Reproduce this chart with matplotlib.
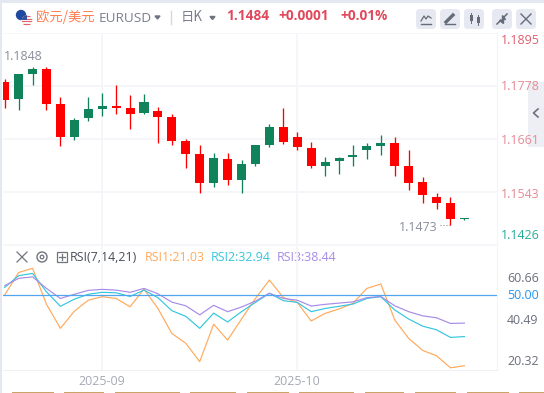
import matplotlib
matplotlib.use("Agg")
import matplotlib.pyplot as plt
from matplotlib.patches import FancyBboxPatch, Rectangle, Circle

plt.rcParams['font.family'] = ['Open Sans', 'Noto Sans CJK SC', 'DejaVu Sans']

opens  = [1.1787,1.1750,1.1805,1.1816,1.1738,1.1666,1.1706,1.1728,1.1734,1.1729,1.1717,1.1723,1.1709,1.1656,1.1628,1.1564,1.1617,1.1569,1.1606,1.1648,1.1687,1.1665,1.1641,1.1600,1.1611,1.1620,1.1637,1.1646,1.1652,1.1601,1.1566,1.1533,1.1519,1.1483]
closes = [1.1746,1.1805,1.1816,1.1739,1.1666,1.1703,1.1727,1.1734,1.1730,1.1715,1.1743,1.1709,1.1657,1.1628,1.1564,1.1619,1.1569,1.1606,1.1648,1.1687,1.1653,1.1642,1.1600,1.1610,1.1619,1.1625,1.1645,1.1652,1.1602,1.1564,1.1536,1.1520,1.1483,1.1484]
highs  = [1.1793,1.1805,1.1820,1.1820,1.1754,1.1707,1.1754,1.1763,1.1780,1.1758,1.1760,1.1732,1.1716,1.1661,1.1648,1.1630,1.1630,1.1614,1.1648,1.1694,1.1729,1.1676,1.1654,1.1621,1.1621,1.1648,1.1652,1.1670,1.1665,1.1637,1.1577,1.1542,1.1533,1.1485]
lows   = [1.1729,1.1725,1.1780,1.1725,1.1646,1.1659,1.1701,1.1712,1.1715,1.1683,1.1715,1.1652,1.1648,1.1597,1.1542,1.1555,1.1558,1.1542,1.1601,1.1643,1.1650,1.1637,1.1597,1.1578,1.1584,1.1600,1.1617,1.1626,1.1578,1.1547,1.1520,1.1505,1.1471,1.1481]
rsi1 = [49.9,59.1,60.8,46.1,36.3,43.3,47.8,49.2,48.5,45.1,52.3,44.4,34.2,30.2,22.7,38.0,31.5,40.1,48.5,56.0,48.9,46.9,39.3,42.4,44.2,46.5,52.6,54.4,39.7,32.2,27.3,25.1,20.2,21.03]
rsi2 = [53.0,57.8,58.7,51.2,45.3,48.2,50.2,51.0,50.8,49.3,51.9,48.8,43.5,41.2,36.3,42.5,38.9,43.1,46.9,50.6,47.6,46.9,43.1,44.4,45.3,46.2,48.5,49.2,43.8,40.1,37.2,35.7,32.6,32.94]
rsi3 = [53.7,56.7,57.3,52.6,48.5,50.2,51.8,52.2,51.9,51.0,52.6,50.4,47.0,45.5,41.8,45.7,43.1,45.0,47.4,50.6,48.5,47.8,45.4,46.1,46.6,47.1,48.8,49.3,45.5,43.1,41.4,40.6,38.3,38.44]
price_ticks = [1.1895,1.1778,1.1661,1.1543,1.1426]
price_labels = ['1.1895','1.1778','1.1661','1.1543','1.1426']
rsi_labels = ['60.66','50.00','40.49','20.32']
date_pos = [7,21]
date_labels = ['2025-09','2025-10']

W, H = 544, 393
UP, DOWN = '#10835a', '#ff0000'
fig = plt.figure(figsize=(W/100, H/100), dpi=100, facecolor='white')

def axes_px(x0, y0, x1, y1, **kw):
    return fig.add_axes([x0/W, 1-y1/H, (x1-x0)/W, (y1-y0)/H], **kw)

# pixel overlay for page furniture
bg = axes_px(0, 0, W, H, zorder=0)
bg.set_xlim(0, W); bg.set_ylim(H, 0); bg.axis('off')
bg.add_patch(Rectangle((0, 0), 2, H, color='#e4e8f1', lw=0))
bg.add_patch(Rectangle((0, 0), W, 3, color='#e4e8f1', lw=0))
bg.add_patch(Rectangle((528, 82), 16, 65, color='#eeeff5', lw=0))
bg.plot([538, 533.5, 538], [109, 113, 117], color='#6b7080', lw=1.2)
for x0 in (416, 440, 464, 492, 516):
    bg.add_patch(FancyBboxPatch((x0+2, 11), 16, 16, boxstyle='round,pad=2,rounding_size=4', fc='#e6e9f1', ec='none'))
ic = '#666b7a'
bg.plot([421, 424, 426, 428, 431], [21, 16, 19, 16, 18], color=ic, lw=0.9)
bg.plot([421, 431], [24, 24], color=ic, lw=1.0)
bg.plot([446, 453], [22, 15], color=ic, lw=2.4)
bg.plot([445, 455], [24, 24], color=ic, lw=1.0)
bg.add_patch(Rectangle((469.5, 15), 3, 6, color=ic, lw=0)); bg.plot([471, 471], [13, 23], color=ic, lw=.7)
bg.add_patch(Rectangle((476.5, 17), 3, 6, color=ic, lw=0)); bg.plot([478, 478], [15, 25], color=ic, lw=.7)
bg.plot([497, 501], [24, 20], color=ic, lw=1.1); bg.plot([503, 507], [18, 14], color=ic, lw=1.1)
bg.fill([499, 502.5, 502.5], [19.5, 19.5, 23], color=ic); bg.fill([501.5, 501.5, 505], [15, 18.5, 18.5], color=ic)
bg.plot([521, 531], [14, 24], color=ic, lw=1.0); bg.plot([531, 521], [14, 24], color=ic, lw=1.0)
bg.add_patch(Circle((21, 15), 5.2, color='#1f4aa0', lw=0))
flag = Circle((27, 20.5), 5.3, color='#f6f0f0', lw=0)
bg.add_patch(flag)
for yy in (16, 18.5, 21, 23.5):
    r = Rectangle((21.5, yy), 11, 1.3, color='#e8606a', lw=0)
    bg.add_patch(r); r.set_clip_path(flag)
bf = Rectangle((21.5, 15), 5.5, 4.5, color='#39509a', lw=0)
bg.add_patch(bf); bf.set_clip_path(flag)
bg.plot([171, 171], [11, 24], color='#d5d8e0', lw=1)
for x0, x1 in ((12, 54), (64, 104), (115, 180), (190, 236), (247, 289), (299, 354), (365, 404), (415, 456), (467, 509), (519, 544)):
    bg.add_patch(Rectangle((x0, 392), x1-x0, 1, color='#c8a468', lw=0))

# text header
def t(x, y, s, color, size, ha='left', weight='normal', family=None):
    kw = {'family': family} if family else {}
    bg.text(x, y, s, color=color, fontsize=size, ha=ha, va='center', weight=weight, **kw)
t(36, 16.5, '欧元/美元', '#ff7d50', 9.6, family=['Noto Sans CJK SC', 'DejaVu Sans'])
t(98.5, 18, 'EURUSD', '#7b7f8e', 9.7)
bg.fill([155, 160, 157.5], [16, 16, 19], color='#6f7382')
t(181, 16.5, '日K', '#7b7f8e', 9.6, family=['Noto Sans CJK SC', 'DejaVu Sans'])
bg.fill([210, 215, 212.5], [16.5, 16.5, 19.5], color='#6f7382')
t(226, 16.5, '1.1484', '#e0485c', 9.8, weight='bold')
t(278.5, 16.5, '+0.0001', '#e0485c', 9.8, weight='bold')
t(340, 16.5, '+0.01%', '#e0485c', 9.8, weight='bold')

x_left, x_right = -0.122, 35.34
grid = '#f4f5f8'

# candlesticks
ax = axes_px(3, 33, 497, 246, zorder=2)
ax.patch.set_alpha(0)
ax.set_xlim(x_left, x_right); ax.set_ylim(1.1424, 1.1895)
xs = list(range(len(opens)))
cols = [UP if c >= o else DOWN for o, c in zip(opens, closes)]
ax.vlines(xs, lows, highs, colors=cols, lw=0.95, zorder=3)
ax.bar(xs, [max(abs(c-o), 0.00022) for o, c in zip(opens, closes)], bottom=[min(o, c) for o, c in zip(opens, closes)], width=0.65, color=cols, lw=0, zorder=4)
ax.set_yticks(price_ticks); ax.set_yticklabels([])
ax.set_xticks(date_pos); ax.set_xticklabels([])
ax.grid(True, color=grid, lw=1.2, zorder=0)
ax.tick_params(length=0)
for s in ('top', 'left', 'bottom'):
    ax.spines[s].set_visible(False)
ax.spines['right'].set_color(grid)
lab_off = [-8, -1, -2, -2, 10]
lab_col = ['#e0606e', '#e78a95', '#e78a95', '#e78a95', '#26ad98']
for v, s, o, c in zip(price_ticks, price_labels, lab_off, lab_col):
    ax.annotate(s, xy=(1, v), xycoords=ax.get_yaxis_transform(), xytext=(2.6, o*0.72), textcoords='offset points', color=c, fontsize=8.9, va='center')
ax.text(-0.08, 1.1848-0.0006, '1.1848', color='#8b8e9a', fontsize=8.9, va='center')
ax.text(31.1, 1.1471-0.0006, '1.1473', color='#8b8e9a', fontsize=8.9, va='center', ha='right')
ax.plot([31.25, 32], [1.1471, 1.1471], color='#8b8e9a', lw=0.8, ls=':')

# RSI
rx = axes_px(3, 246, 497, 370, zorder=2)
rx.patch.set_alpha(0)
rx.set_xlim(x_left, x_right); rx.set_ylim(19.3, 69.9)
rx.plot(xs, rsi1, color='#ffa95c', lw=0.85, zorder=3)
rx.plot(xs, rsi2, color='#34c6dd', lw=0.85, zorder=3)
rx.plot(xs, rsi3, color='#a78be8', lw=0.85, zorder=3)
rx.axhline(50, color='#4fa6ee', lw=0.9, zorder=4)
rx.set_xticks(date_pos); rx.set_xticklabels(date_labels, color='#a6a9b4', fontsize=8.9)
rx.tick_params(length=0, pad=3.5)
rx.set_yticks([])
rx.grid(True, axis='x', color=grid, lw=1.2, zorder=0)
for s in ('left', 'top'):
    rx.spines[s].set_visible(False)
rx.spines['right'].set_color(grid); rx.spines['bottom'].set_color('#eef0f3')
for y, s, c in zip((279, 295.5, 321, 361.5), rsi_labels, ('#6b6f7d', '#2196f3', '#6b6f7d', '#6b6f7d')):
    t(507, y, s, c, 8.9)

# RSI header
bg.plot([17, 27], [252, 262], color='#70747f', lw=0.9); bg.plot([27, 17], [252, 262], color='#70747f', lw=0.9)
bg.add_patch(Circle((42, 257), 5, fc='none', ec='#70747f', lw=1))
bg.add_patch(Circle((42, 257), 1.8, fc='none', ec='#70747f', lw=0.9))
bg.add_patch(Rectangle((57, 252), 10, 10, fc='none', ec='#70747f', lw=0.9))
bg.plot([62, 62], [254, 260], color='#70747f', lw=0.9); bg.plot([59, 65], [257, 257], color='#70747f', lw=0.9)
t(70, 257.5, 'RSI(7,14,21)', '#4a4e5a', 8.9)
t(144.5, 257.5, 'RSI1:21.03', '#ffa95c', 8.9)
t(211, 257.5, 'RSI2:32.94', '#34c6dd', 8.9)
t(277, 257.5, 'RSI3:38.44', '#a78be8', 8.9)

fig.savefig('out.png', dpi=100)
